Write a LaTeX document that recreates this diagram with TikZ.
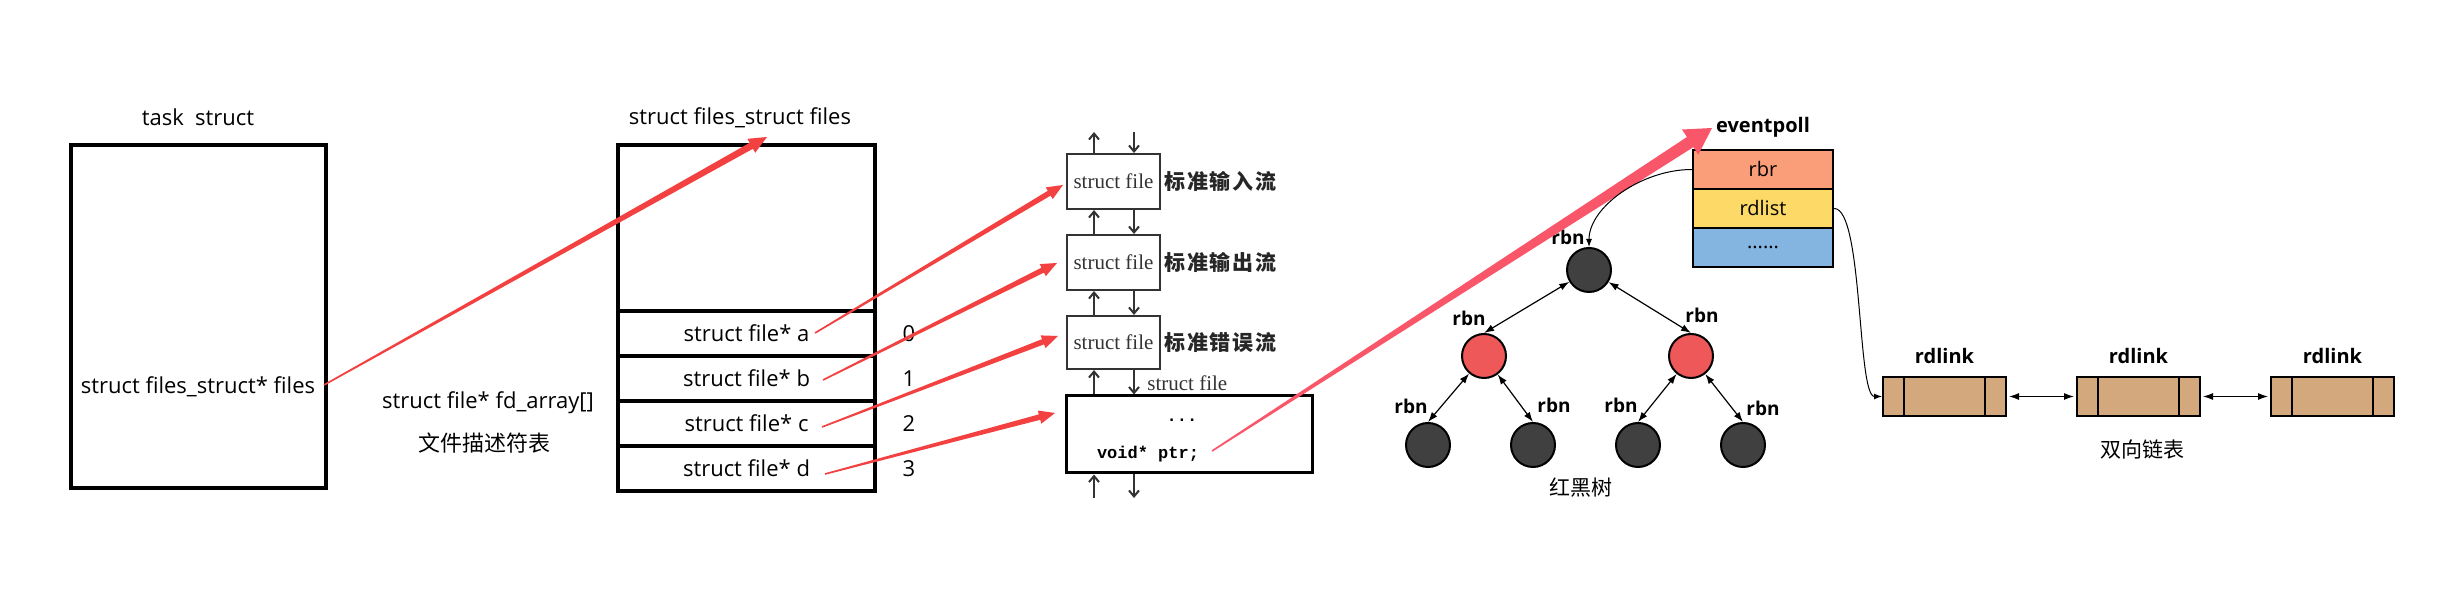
\documentclass[tikz,border=0pt]{standalone}
\usepackage{fontspec}
\setmainfont{Open Sans}
\setmonofont{Liberation Mono}
\newfontfamily\cjk{Noto Sans CJK SC}
\newfontfamily\cjkwide{Noto Sans CJK SC}[LetterSpace=8]
\newfontfamily\bookserif{Liberation Serif}
\usetikzlibrary{arrows.meta,calc,positioning}

\definecolor{arrowred}{RGB}{243,64,64}
\definecolor{ptrpink}{RGB}{250,86,106}
\definecolor{nodegray}{RGB}{64,64,64}
\definecolor{nodered}{RGB}{239,88,88}
\definecolor{rbrfill}{RGB}{250,158,122}
\definecolor{listfill}{RGB}{253,217,104}
\definecolor{restfill}{RGB}{132,180,224}
\definecolor{linkfill}{RGB}{212,168,125}

% tapered arrow: colour, from, to, shaft half width, head half width, head length
\newcommand{\taperarrow}[6]{%
	\coordinate (tp-base) at ($(#3)!#6!(#2)$);
	\fill[#1] ($(#2)!0.4pt!90:(#3)$)
		-- ($(tp-base)!#4!90:(#3)$) -- ($(tp-base)!#5!90:(#3)$)
		-- (#3)
		-- ($(tp-base)!#5!-90:(#3)$) -- ($(tp-base)!#4!-90:(#3)$)
		-- ($(#2)!0.4pt!-90:(#3)$) -- cycle;}

\begin{document}
\begin{tikzpicture}%
	[x=0.5pt, y=0.5pt,
	txt/.style={font=\fontsize{11}{13}\selectfont, inner sep=2pt},
	bigbox/.style={draw=black, line width=2pt, inner sep=0pt},
	slot/.style={bigbox, minimum width=128.5pt, minimum height=22.5pt, font=\fontsize{11}{13}\selectfont},
	filebox/.style={draw=black!80, line width=1pt, minimum width=46.5pt, minimum height=27.5pt, inner sep=0pt,
		font=\bookserif\fontsize{10.5}{12}\selectfont, text=black!80},
	streamlabel/.style={anchor=west, inner sep=1.5pt, font=\cjkwide\bfseries\fontsize{10.5}{12}\selectfont, text=black!85},
	link/.style={-{Straight Barb[length=3pt,width=5pt]}, line width=1pt, draw=black!80},
	rbnode/.style={circle, draw=black, line width=1pt, minimum size=22pt, inner sep=0pt},
	blacknode/.style={rbnode, fill=nodegray},
	rednode/.style={rbnode, fill=nodered},
	treeedge/.style={{Latex[length=5pt,width=3.5pt]}-{Latex[length=5pt,width=3.5pt]}, line width=0.6pt},
	lbl/.style={font=\bfseries\fontsize{9.5}{11}\selectfont, inner sep=0pt},
	field/.style={draw=black, line width=1.2pt, minimum width=70pt, minimum height=19.5pt, inner sep=0pt,
		font=\fontsize{10}{12}\selectfont},
	rdlink/.style={draw=black, line width=1pt, fill=linkfill, minimum width=61.5pt, minimum height=19.5pt, inner sep=0pt},
	curve/.style={-{Latex[length=4pt,width=3pt]}, line width=0.5pt}]

	\useasboundingbox (0,0) rectangle (2454,-603);

	%task struct
	\node[bigbox, minimum width=127.5pt, minimum height=171.5pt] (task) at (198.5,-316.5) {};
	\node[txt] (tasktitle) at (198,-117) {task\ \ struct};
	\node[txt] (filesptr) at (198,-387) {struct files\_struct* files};

	%files struct
	\node[bigbox, minimum width=128.5pt, minimum height=173pt] (files) at (746.5,-318) {};
	\node[txt] (filestitle) at (740,-118) {struct files\_struct files};
	\node[slot] (fa) at (746.5,-333.5) {struct file* a};
	\node[slot] (fb) at (746.5,-378.5) {struct file* b};
	\node[slot] (fc) at (746.5,-423.5) {struct file* c};
	\node[slot] (fd) at (746.5,-468.5) {struct file* d};
	\foreach \row/\idx in {fa/0, fb/1, fc/2, fd/3}
		\node[txt] (idx\idx) at ([xshift=16pt]\row.east) {\idx};
	\node[txt] (fdarray) at (488,-403) {struct file* fd\_array[]};
	\node[txt, font=\cjk\fontsize{11}{13}\selectfont] (fdtable) at (484,-443) {文件描述符表};

	%struct file list
	\node[filebox] (sf1) at (1113.5,-181.5) {struct file};
	\node[filebox] (sf2) at (1113.5,-262.5) {struct file};
	\node[filebox, minimum height=26.5pt] (sf3) at (1113.5,-342.5) {struct file};
	\node[draw=black, line width=1.5pt, minimum width=123pt, minimum height=38.5pt, inner sep=0pt] (sfx) at (1189,-434.5) {};
	\node[streamlabel] (stdin) at (sf1.east) {标准输入流};
	\node[streamlabel] (stdout) at (sf2.east) {标准输出流};
	\node[streamlabel] (stderr) at (sf3.east) {标准错误流};
	\node[anchor=west, inner sep=0pt, font=\bookserif\fontsize{10.5}{12}\selectfont, text=black!80] (sfname) at (1147,-383) {struct file};
	\node[inner sep=0pt, font=\ttfamily\bfseries\fontsize{8.5}{10}\selectfont] (dots) at (1182,-420) {...};
	\node[inner sep=0pt, font=\ttfamily\bfseries\fontsize{8.5}{10}\selectfont] (ptr) at (1148,-454) {void* ptr;};

	\coordinate (upx) at (1094,-132);
	\coordinate (dnx) at (1134,-132);
	\coordinate (upend) at (1094,-498);
	\coordinate (dnend) at (1134,-498);
	\draw[link] (sf1.north -| upx) -- (upx);
	\draw[link] (dnx) -- (sf1.north -| dnx);
	\foreach \a/\b in {sf1/sf2, sf2/sf3, sf3/sfx}
	{
		\draw[link] (\b.north -| upx) -- (\a.south -| upx);
		\draw[link] (\a.south -| dnx) -- (\b.north -| dnx);
	}
	\draw[link] (upend) -- (sfx.south -| upend);
	\draw[link] (sfx.south -| dnend) -- (dnend);

	%eventpoll
	\node[lbl, font=\bfseries\fontsize{10}{12}\selectfont] (eptitle) at (1763,-127) {eventpoll};
	\node[field, fill=rbrfill] (rbr) at (1763,-169.5) {rbr};
	\node[field, fill=listfill] (rdlist) at (1763,-208.5) {rdlist};
	\node[field, fill=restfill] (rest) at (1763,-247.5) {......};

	%red-black tree
	\node[blacknode] (root) at (1589,-270) {};
	\node[rednode] (lred) at (1484,-356) {};
	\node[rednode] (rred) at (1691,-356) {};
	\node[blacknode] (leaf1) at (1428,-445) {};
	\node[blacknode] (leaf2) at (1533,-445) {};
	\node[blacknode] (leaf3) at (1638,-445) {};
	\node[blacknode] (leaf4) at (1743,-445) {};
	\foreach \name/\x/\y in {root/1568/237, lred/1469/318, rred/1702/315,
		leaf1/1411/406, leaf2/1554/405, leaf3/1621/405, leaf4/1763/408}
		\node[lbl] (\name-lbl) at (\x,-\y) {rbn};
	\draw[treeedge] (root) -- (lred.north);
	\draw[treeedge] (root) -- (rred.north);
	\draw[treeedge] (lred) -- (leaf1.north);
	\draw[treeedge] (lred) -- (leaf2.north);
	\draw[treeedge] (rred) -- (leaf3.north);
	\draw[treeedge] (rred) -- (leaf4.north);
	\node[txt, font=\cjk\fontsize{10.5}{12}\selectfont] (treename) at (1581,-488) {红黑树};

	%ready list
	\node[rdlink] (link1) at (1944.5,-396.5) {};
	\node[rdlink] (link2) at (2138.5,-396.5) {};
	\node[rdlink] (link3) at (2332.5,-396.5) {};
	\foreach \k in {1,2,3}
	{
		\draw[line width=1pt] ([xshift=11pt]link\k.north west) -- ([xshift=11pt]link\k.south west);
		\draw[line width=1pt] ([xshift=-11pt]link\k.north east) -- ([xshift=-11pt]link\k.south east);
		\node[lbl, font=\bfseries\fontsize{10}{12}\selectfont] (link\k-lbl) at ([yshift=10pt]link\k.north) {rdlink};
	}
	\draw[treeedge, shorten <=1pt, shorten >=1pt] (link1.east) -- (link2.west);
	\draw[treeedge, shorten <=1pt, shorten >=1pt] (link2.east) -- (link3.west);
	\node[txt, font=\cjk\fontsize{10.5}{12}\selectfont] (listname) at (2142,-450) {双向链表};

	%pointers
	\coordinate (files-from) at (324,-385);
	\coordinate (files-to) at (767,-137);
	\coordinate (fa-from) at (815,-333);
	\coordinate (fb-from) at (823,-380);
	\coordinate (fc-from) at (822,-427);
	\coordinate (fd-from) at (825,-474);
	\coordinate (fa-to) at (1063,-185);
	\coordinate (fb-to) at (1057,-263);
	\coordinate (fc-to) at (1058,-336);
	\coordinate (fd-to) at (1055,-413);
	\coordinate (ptr-from) at (1212,-451);
	\coordinate (ptr-to) at (1712,-128);
	\taperarrow{arrowred}{files-from}{files-to}{1.7pt}{4pt}{9pt}
	\foreach \r in {fa,fb,fc,fd}
	{
		\taperarrow{arrowred}{\r-from}{\r-to}{1.4pt}{3.4pt}{8pt}
	}
	\taperarrow{ptrpink}{ptr-from}{ptr-to}{3pt}{7.5pt}{13pt}

	\draw[curve] (rbr.west) .. controls +(-50,0) and +(0,40) .. (root.north);
	\draw[curve] (rdlist.east) .. controls +(29,0) and +(-25,0) .. (link1.west);
\end{tikzpicture}
\end{document}
